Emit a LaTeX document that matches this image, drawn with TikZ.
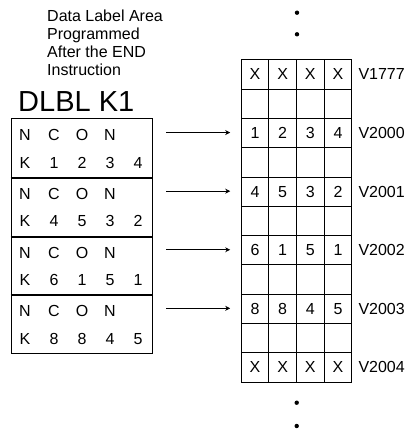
\documentclass[tikz,border=0pt]{standalone}
\usepackage{fontspec}
\setmainfont{Liberation Sans}
\usetikzlibrary{arrows.meta}
\begin{document}
\begin{tikzpicture}[x=1pt,y=-1pt,
  cell/.style={draw, line width=1pt, minimum width=27.65pt, minimum height=29.3pt, inner sep=0pt, anchor=north west, font=\fontsize{16}{19}\selectfont},
  grp/.style={draw, line width=1pt, minimum width=141pt, minimum height=58.75pt, inner sep=0pt, anchor=north west},
  ltr/.style={font=\fontsize{16}{19}\selectfont, inner sep=0pt},
  vlab/.style={font=\fontsize{16}{19}\selectfont, anchor=west, inner sep=0pt},
  arr/.style={-{Stealth[length=5pt,width=5pt]}, line width=0.8pt},
  dotnode/.style={circle, fill, inner sep=0pt, minimum size=4.4pt}]
\useasboundingbox (0,0) rectangle (409,433);

% title text
\node[anchor=north west, align=left, font=\fontsize{16}{18}\selectfont, inner sep=0pt] (title) at (47,10) {Data Label Area\\Programmed\\After the END\\Instruction};
\node[font=\fontsize{29}{34}\selectfont, anchor=base west, inner sep=0pt] (dlbl) at (18,111) {DLBL K1};

% grid rows with values
\foreach \r/\pa/\pb/\pc/\pd in {0/X/X/X/X,2/1/2/3/4,4/4/5/3/2,6/6/1/5/1,8/8/8/4/5,10/X/X/X/X}{
  \node[cell] (c\r-1) at (240.7, {59.3+\r*29.3}) {\pa};
  \node[cell] (c\r-2) at (268.35, {59.3+\r*29.3}) {\pb};
  \node[cell] (c\r-3) at (296.0, {59.3+\r*29.3}) {\pc};
  \node[cell] (c\r-4) at (323.65, {59.3+\r*29.3}) {\pd};
}
\foreach \r in {1,3,5,7,9}{
  \node[cell] (c\r-1) at (240.7, {59.3+\r*29.3}) {};
  \node[cell] (c\r-2) at (268.35, {59.3+\r*29.3}) {};
  \node[cell] (c\r-3) at (296.0, {59.3+\r*29.3}) {};
  \node[cell] (c\r-4) at (323.65, {59.3+\r*29.3}) {};
}

% address labels
\foreach \r/\t in {0/V1777,2/V2000,4/V2001,6/V2002,8/V2003,10/V2004}{
  \node[vlab] (v\r) at ([xshift=6pt]c\r-4.east) {\t};
}

% left data label boxes
\foreach \g/\pa/\pb/\pc/\pd in {0/1/2/3/4,1/4/5/3/2,2/6/1/5/1,3/8/8/4/5}{
  \node[grp] (g\g) at (10.5, {118+\g*58.75}) {};
  \node[ltr] (n\g-1) at (25,  {118+\g*58.75+17}) {N};
  \node[ltr] (n\g-2) at (54,  {118+\g*58.75+17}) {C};
  \node[ltr] (n\g-3) at (82,  {118+\g*58.75+17}) {O};
  \node[ltr] (n\g-4) at (110, {118+\g*58.75+17}) {N};
  \node[ltr] (k\g-1) at (25,  {118+\g*58.75+44.5}) {K};
  \node[ltr] (k\g-2) at (54,  {118+\g*58.75+44.5}) {\pa};
  \node[ltr] (k\g-3) at (82,  {118+\g*58.75+44.5}) {\pb};
  \node[ltr] (k\g-4) at (110, {118+\g*58.75+44.5}) {\pc};
  \node[ltr] (k\g-5) at (138, {118+\g*58.75+44.5}) {\pd};
}
\foreach \g in {0,1,2}{
  \draw[line width=2pt] (g\g.south west) -- (g\g.south east);
}

% arrows
\foreach \g [evaluate=\g as \rr using int(2+2*\g)] in {0,1,2,3}{
  \coordinate (s\g) at (166, {132.55+\g*58.6});
  \draw[arr, shorten >=10.5pt] (s\g) -- (s\g -| c\rr-1.west);
}

% continuation dots
\node[dotnode] (d1) at (297,12.7) {};
\node[dotnode] (d2) at (297,34.3) {};
\node[dotnode] (d3) at (296.7,402.7) {};
\node[dotnode] (d4) at (296.7,426) {};
\end{tikzpicture}
\end{document}
